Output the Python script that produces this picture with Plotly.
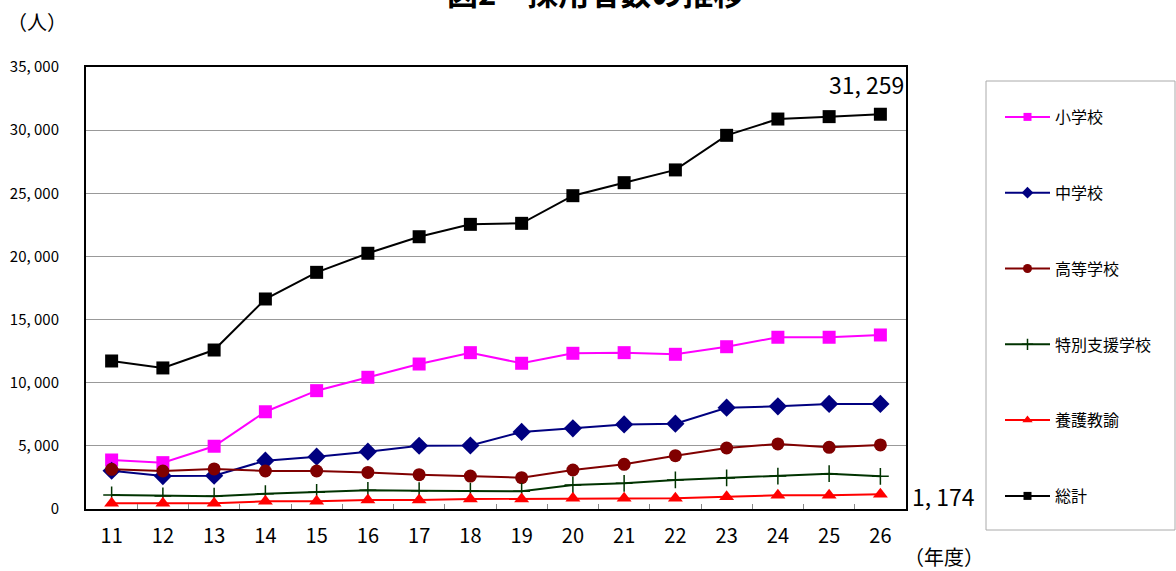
import plotly.graph_objects as go

# ---- data ----
years = ["11", "12", "13", "14", "15", "16", "17", "18", "19", "20", "21", "22", "23", "24", "25", "26"]
elementary = [3880, 3670, 4970, 7700, 9370, 10430, 11480, 12380, 11540, 12330, 12380, 12250, 12850, 13600, 13600, 13780]
junior_high = [3030, 2610, 2640, 3830, 4140, 4540, 5010, 5030, 6100, 6390, 6700, 6760, 8020, 8130, 8320, 8320]
high_school = [3140, 3010, 3170, 3010, 3010, 2900, 2720, 2610, 2480, 3090, 3540, 4220, 4830, 5150, 4880, 5070]
special_needs = [1110, 1030, 1010, 1210, 1320, 1480, 1450, 1420, 1400, 1900, 2030, 2300, 2460, 2610, 2800, 2590]
yogo = [450, 450, 450, 610, 610, 710, 710, 790, 790, 850, 850, 850, 970, 1090, 1090, 1174]
total = [11720, 11170, 12590, 16630, 18740, 20250, 21560, 22540, 22620, 24810, 25840, 26850, 29590, 30880, 31070, 31259]

series_names = ["小学校", "中学校", "高等学校", "特別支援学校", "養護教諭", "総計"]
y_tick_vals = [0, 5000, 10000, 15000, 20000, 25000, 30000, 35000]
y_tick_text = ["0", "5, 000", "10, 000", "15, 000", "20, 000", "25, 000", "30, 000", "35, 000"]

FONT = "Noto Sans CJK JP"

fig = go.Figure()

styles = [
    (elementary, "#FF00FF", "square", 13, 8),
    (junior_high, "#000080", "diamond", 14, 9),
    (high_school, "#800000", "circle", 13, 9),
    (special_needs, "#003300", "cross-thin", 12, 8),
    (yogo, "#FF0000", "triangle-up", 13, 9),
    (total, "#000000", "square", 13, 8),
]

# plotted series (legend entries drawn by small-marker twins below)
for name, (vals, color, sym, size, lsize) in zip(series_names, styles):
    marker = dict(symbol=sym, size=size, color=color)
    if sym == "cross-thin":
        marker["line"] = dict(color=color, width=1.5)
    fig.add_trace(go.Scatter(
        x=years, y=vals, name=name, mode="lines+markers",
        line=dict(color=color, width=2), marker=marker,
        legendgroup=name, showlegend=False,
    ))

# legend entries with smaller symbols (no data points)
for name, (vals, color, sym, size, lsize) in zip(series_names, styles):
    marker = dict(symbol=sym, size=lsize, color=color)
    if sym == "cross-thin":
        marker["line"] = dict(color=color, width=1.5)
    fig.add_trace(go.Scatter(
        x=[None], y=[None], name=name, mode="lines+markers",
        line=dict(color=color, width=2), marker=marker,
        legendgroup=name, showlegend=True,
    ))

# pixel helpers for layout placement
L, R, T, B = 86, 906, 67, 509
W, H = 1176, 571
def px_x(px):
    return (px - L) / (R - L)
def px_y(py):
    return (B - py) / (B - T)

annotations = [
    dict(text="<b>図2　採用者数の推移</b>", xref="paper", yref="paper",
         x=px_x(595), y=px_y(-8), xanchor="center", yanchor="middle",
         showarrow=False, font=dict(size=31, color="black", family=FONT)),
    dict(text="（人）", xref="paper", yref="paper", x=px_x(5), y=px_y(22),
         xanchor="left", yanchor="middle", showarrow=False,
         font=dict(size=20, color="black", family=FONT)),
    dict(text="（年度）", xref="paper", yref="paper", x=px_x(902), y=px_y(556),
         xanchor="left", yanchor="middle", showarrow=False,
         font=dict(size=20, color="black", family=FONT)),
    dict(text=f"{total[-1] // 1000}, {total[-1] % 1000:03d}", x=len(years) - 1, y=total[-1],
         xanchor="right", yanchor="middle", xshift=26, yshift=30, showarrow=False,
         font=dict(size=23, color="black", family=FONT)),
    dict(text=f"{yogo[-1] // 1000}, {yogo[-1] % 1000:03d}", xref="paper", yref="paper",
         x=px_x(910), y=px_y(496), xanchor="left", yanchor="middle", showarrow=False,
         font=dict(size=23, color="black", family=FONT)),
]

shapes = [
    dict(type="rect", xref="paper", yref="paper",
         x0=px_x(986), x1=px_x(1175), y0=px_y(530), y1=px_y(81),
         line=dict(color="#AAAAAA", width=1), fillcolor="rgba(0,0,0,0)", layer="below"),
]

fig.update_layout(
    width=W, height=H,
    margin=dict(l=L, r=W - R, t=T, b=H - B, autoexpand=False),
    paper_bgcolor="white", plot_bgcolor="white",
    font=dict(family=FONT, color="black"),
    showlegend=True,
    legend=dict(
        x=px_x(1000), y=px_y(100), xanchor="left", yanchor="top",
        borderwidth=0, bgcolor="rgba(0,0,0,0)",
        font=dict(size=16, family=FONT, color="black"),
        tracegroupgap=52, itemsizing="trace",
        itemwidth=45,
    ),
    annotations=annotations,
    shapes=shapes,
    xaxis=dict(
        type="category", range=[-0.5, 15.5],
        showline=True, linecolor="black", linewidth=2, mirror=True,
        ticks="inside", tickson="boundaries", ticklen=5, tickcolor="#888888",
        showgrid=False, tickfont=dict(size=20, family=FONT, color="black"),
        ticklabelstandoff=8,
    ),
    yaxis=dict(
        range=[0, 35000], tickvals=y_tick_vals, ticktext=y_tick_text,
        showline=True, linecolor="black", linewidth=2, mirror=True,
        showgrid=True, gridcolor="#999999", gridwidth=1,
        tickfont=dict(size=15, family=FONT, color="black"),
        ticks="", ticklabelstandoff=22, zeroline=False,
    ),
)

fig.write_html("out.html", config={"displayModeBar": False},
               post_script="document.body.style.margin='0';")
